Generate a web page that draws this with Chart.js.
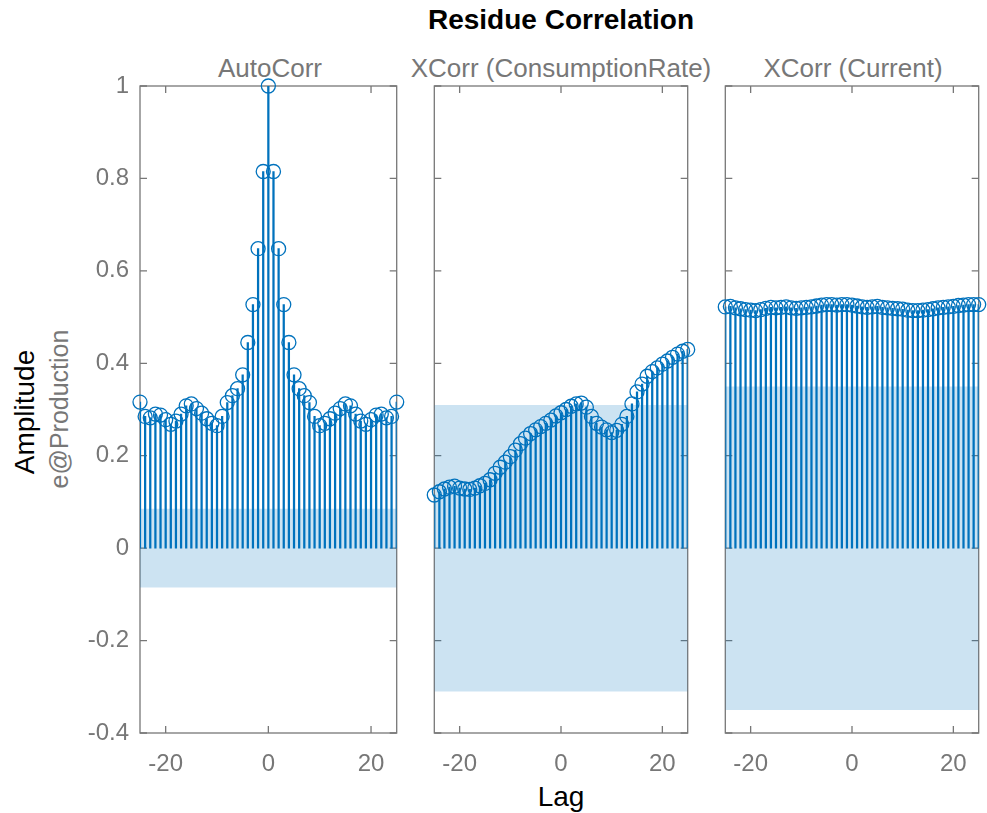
<!DOCTYPE html>
<html>
<head>
<meta charset="utf-8">
<script src="https://cdn.jsdelivr.net/npm/chart.js@4.4.1/dist/chart.umd.min.js"></script>
<style>
  body { margin: 0; background: #fff; font-family: "Liberation Sans", Arial, sans-serif; }
  #wrap { position: relative; width: 987px; height: 813px; overflow: hidden; }
  canvas { position: absolute; top: 0; }
  .lbl { position: absolute; white-space: nowrap; transform: translate(-50%, -50%); }
  .rot { transform: translate(-50%, -50%) rotate(-90deg); }
  .sub { font-size: 26px; color: #777; top: 68px; }
</style>
</head>
<body>
<div id="wrap">
  <div class="lbl" style="left:561px;top:20px;font-size:28px;font-weight:bold;color:#000">Residue Correlation</div>
  <div class="lbl sub" id="t1" style="left:270px"></div>
  <div class="lbl sub" id="t2" style="left:561px"></div>
  <div class="lbl sub" id="t3" style="left:853px"></div>
  <div class="lbl rot" style="left:25px;top:412px;font-size:28px;color:#000">Amplitude</div>
  <div class="lbl rot" style="left:59px;top:409px;font-size:25px;color:#777">e@Production</div>
  <div class="lbl" style="left:561px;top:797px;font-size:28px;color:#000">Lag</div>
  <canvas id="p1" width="405" height="813" style="left:0px"></canvas>
  <canvas id="p2" width="270" height="813" style="left:426px"></canvas>
  <canvas id="p3" width="270" height="813" style="left:717px"></canvas>
</div>
<script>
const lags = [-25, -24, -23, -22, -21, -20, -19, -18, -17, -16, -15, -14, -13, -12, -11, -10, -9, -8, -7, -6, -5, -4, -3, -2, -1,
  0, 1, 2, 3, 4, 5, 6, 7, 8, 9, 10, 11, 12, 13, 14, 15, 16, 17, 18, 19, 20, 21, 22, 23, 24, 25];

const autoCorr = [0.316, 0.285, 0.282, 0.29, 0.288, 0.278, 0.268, 0.275, 0.29, 0.308, 0.312, 0.302, 0.292, 0.28, 0.27,
  0.265, 0.285, 0.315, 0.33, 0.345, 0.375, 0.445, 0.527, 0.648, 0.815,
  1.0,
  0.815, 0.648, 0.527, 0.445, 0.375, 0.345, 0.33, 0.315, 0.285, 0.265, 0.27, 0.28, 0.292, 0.302, 0.312,
  0.308, 0.29, 0.275, 0.268, 0.278, 0.288, 0.29, 0.282, 0.285, 0.316];

const xcorrConsumption = [0.115, 0.122, 0.128, 0.132, 0.134, 0.13, 0.128, 0.127, 0.13, 0.135, 0.14, 0.148, 0.162,
  0.175, 0.186, 0.198, 0.212, 0.226, 0.238, 0.248, 0.256, 0.263, 0.27, 0.277, 0.286,
  0.293, 0.3, 0.307, 0.312, 0.314, 0.305, 0.285, 0.27, 0.262, 0.256, 0.25, 0.255, 0.268,
  0.285, 0.312, 0.338, 0.355, 0.372, 0.382, 0.39, 0.398, 0.405, 0.413, 0.42, 0.426, 0.43];

const xcorrCurrent = [0.522, 0.523, 0.52, 0.518, 0.516, 0.515, 0.514, 0.516, 0.519, 0.521, 0.52, 0.521, 0.522,
  0.52, 0.519, 0.52, 0.521, 0.522, 0.524, 0.526, 0.527, 0.527, 0.526, 0.527, 0.527,
  0.526, 0.524, 0.522, 0.521, 0.522, 0.523, 0.521, 0.52, 0.519, 0.518, 0.517, 0.515, 0.514,
  0.514, 0.515, 0.516, 0.518, 0.52, 0.521, 0.522, 0.523, 0.525, 0.526, 0.527, 0.527, 0.527];

// confidence bound (+/-) for each panel
const bounds = [0.085, 0.31, 0.35];
const titles = ['AutoCorr', 'XCorr (ConsumptionRate)', 'XCorr (Current)'];
const xTicks = [-20, 0, 20];
const yTicks = [-0.4, -0.2, 0, 0.2, 0.4, 0.6, 0.8, 1];

const blue = 'rgb(0,114,189)';
const axisGray = '#777777';
const font = '"Liberation Sans", Arial, sans-serif';

// box round the axes with inward tick marks, matlab style
const boxTicks = {
  id: 'boxTicks',
  beforeDatasetsDraw(chart) {
    const { ctx, chartArea: a, scales } = chart;
    const len = 7;
    ctx.save();
    ctx.strokeStyle = axisGray;
    ctx.lineWidth = 1.3;
    ctx.strokeRect(a.left, a.top, a.right - a.left, a.bottom - a.top);
    ctx.beginPath();
    scales.x.ticks.forEach(t => {
      const px = scales.x.getPixelForValue(t.value);
      ctx.moveTo(px, a.bottom); ctx.lineTo(px, a.bottom - len);
      ctx.moveTo(px, a.top); ctx.lineTo(px, a.top + len);
    });
    scales.y.ticks.forEach(t => {
      const py = scales.y.getPixelForValue(t.value);
      ctx.moveTo(a.left, py); ctx.lineTo(a.left + len, py);
      ctx.moveTo(a.right, py); ctx.lineTo(a.right - len, py);
    });
    ctx.stroke();
    ctx.restore();
  }
};

function makePanel(id, values, bound, yWidth, padRight, showY) {
  const pts = lags.map((x, i) => ({ x: x, y: values[i] }));
  new Chart(document.getElementById(id), {
    type: 'bar',
    data: {
      datasets: [
        {
          type: 'line', order: 3,
          data: [{ x: -25, y: bound }, { x: 25, y: bound }],
          borderWidth: 0, pointRadius: 0, fill: false
        },
        {
          type: 'line', order: 3,
          data: [{ x: -25, y: -bound }, { x: 25, y: -bound }],
          borderWidth: 0, pointRadius: 0, fill: '-1',
          backgroundColor: 'rgba(0,114,189,0.2)'
        },
        {
          type: 'bar', order: 2,
          data: pts,
          backgroundColor: blue,
          borderWidth: 0,
          barThickness: 1.6
        },
        {
          type: 'line', order: 1,
          data: pts,
          showLine: false,
          pointStyle: 'circle',
          pointRadius: 7,
          pointBorderWidth: 1.3,
          pointBorderColor: blue,
          pointBackgroundColor: 'rgba(0,0,0,0)',
          clip: false
        }
      ]
    },
    options: {
      responsive: false,
      animation: false,
      layout: { padding: { left: 0, right: padRight, top: 86, bottom: 0 } },
      plugins: {
        legend: { display: false },
        tooltip: { enabled: false }
      },
      scales: {
        x: {
          type: 'linear',
          min: -25, max: 25,
          offset: false,
          grid: { display: false, offset: false },
          border: { display: false },
          afterBuildTicks: s => { s.ticks = xTicks.map(v => ({ value: v })); },
          afterFit: s => { s.height = 80; },
          ticks: { color: axisGray, padding: 9, font: { family: font, size: 24 } }
        },
        y: {
          min: -0.4, max: 1,
          grid: { display: false },
          border: { display: false },
          afterBuildTicks: s => { s.ticks = yTicks.map(v => ({ value: v })); },
          afterFit: s => { s.width = yWidth; },
          ticks: {
            display: showY, color: axisGray, padding: 3,
            font: { family: font, size: 24 },
            callback: v => String(Math.round(v * 10) / 10)
          }
        }
      }
    },
    plugins: [boxTicks]
  });
}

document.addEventListener('DOMContentLoaded', () => {
  ['t1', 't2', 't3'].forEach((id, i) => { document.getElementById(id).textContent = titles[i]; });
  makePanel('p1', autoCorr, bounds[0], 140, 5, true);
  makePanel('p2', xcorrConsumption, bounds[1], 5, 5, false);
  makePanel('p3', xcorrCurrent, bounds[2], 5, 2, false);
});
</script>
</body>
</html>
